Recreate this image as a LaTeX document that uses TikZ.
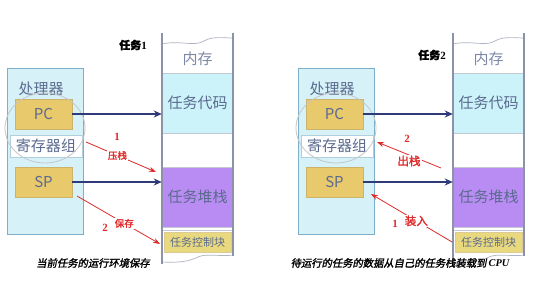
\documentclass[tikz,border=0pt]{standalone}
\usepackage{fontspec}
\setmainfont{Liberation Serif}
\newfontfamily\cjk{Noto Sans CJK SC}
\newfontfamily\cjkb[FakeBold=1.6]{Noto Sans CJK SC}
\newfontfamily\cjkcap[FakeSlant=0.2,FakeBold=1.6]{Noto Sans CJK SC}
\usetikzlibrary{arrows.meta}
\definecolor{procfill}{HTML}{D6F2F8}
\definecolor{procline}{HTML}{7DB0C8}
\definecolor{gold}{HTML}{E8C96C}
\definecolor{goldline}{HTML}{CDB36A}
\definecolor{tcbfill}{HTML}{E9D97E}
\definecolor{cyanc}{HTML}{CBF3F9}
\definecolor{purp}{HTML}{B88CF2}
\definecolor{txtc}{HTML}{5B6A8F}
\definecolor{navy}{HTML}{2E3B78}
\definecolor{redc}{HTML}{E02A2A}
\definecolor{memline}{HTML}{8C93A8}
\tikzset{
  procbox/.style={draw=procline, fill=procfill, line width=1pt, minimum width=76pt, minimum height=166pt, inner sep=0pt},
  pcbox/.style={draw=goldline, fill=gold, line width=0.6pt, minimum width=57pt, minimum height=30pt, inner sep=0pt, font=\cjk\fontsize{15}{15}\selectfont, text=txtc},
  regbox/.style={draw=procline!60, fill=white, line width=0.6pt, minimum width=72pt, minimum height=22pt, inner sep=0pt, font=\cjk\fontsize{15}{15}\selectfont, text=txtc},
  celltxt/.style={font=\cjk\fontsize{15}{15}\selectfont, text=txtc, inner sep=0pt},
  memcell/.style={draw=memline!50, line width=0.5pt, minimum width=71pt, minimum height=60pt, inner sep=0pt, font=\cjk\fontsize{15}{15}\selectfont, text=txtc},
  tcbbox/.style={draw=goldline!70, fill=tcbfill, line width=0.5pt, minimum width=67pt, minimum height=20pt, inner sep=0pt, font=\cjk\fontsize{11}{11}\selectfont, text=txtc},
  ring/.style={draw=gray!45, line width=0.8pt},
  memedge/.style={draw=memline, line width=1.2pt},
  navyarrow/.style={draw=navy, line width=2pt, -{Stealth[length=8pt,width=7pt]}},
  redarrow/.style={draw=redc, line width=0.8pt, -{Stealth[length=7pt,width=5pt]}},
  redlab/.style={font=\cjkb\fontsize{9.5}{9.5}\selectfont, text=redc, fill=white, inner sep=1pt},
  redlabbig/.style={redlab, font=\cjkb\fontsize{11.5}{11.5}\selectfont},
  rednum/.style={font=\bfseries\fontsize{11}{11}\selectfont, text=redc, inner sep=0pt},
  tasklab/.style={font=\bfseries\fontsize{11}{11}\selectfont, inner sep=0pt},
  caption/.style={font=\cjkcap\fontsize{10.3}{10.3}\selectfont, inner sep=0pt}
}
\newcommand\mypanel[1]{%
  \node[procbox] (#1proc) at (45,152) {};
  \node[celltxt] (#1proctxt) at (41,89) {处理器};
  \node[pcbox] (#1pc) at (43.5,114) {PC};
  \node[regbox] (#1reg) at (46,146) {寄存器组};
  \node[pcbox] (#1sp) at (43.5,182) {SP};
  \draw[ring] (45,128) ellipse [x radius=40, y radius=35];
  % memory column
  \node[memcell, fill=cyanc] (#1code) at (197.5,103) {任务代码};
  \node[memcell, fill=purp] (#1stack) at (197.5,197) {任务堆栈};
  \draw[memline!50, line width=0.5pt] (162,230) -- (233,230);
  \node[tcbbox] (#1tcb) at (197.5,242) {任务控制块};
  \node[celltxt, text=txtc!80] (#1mem) at (197.5,59) {内存};
  \draw[memline!70, line width=0.7pt] (162,44) .. controls (180,40) and (194,47) .. (204,41) .. controls (212,36) and (224,38) .. (233,38);
  \draw[memline!70, line width=0.7pt] (162,262) .. controls (180,263) and (190,261) .. (198,257) .. controls (206,253) and (222,257) .. (233,255);
  \draw[memedge] (162,33) -- (162,264);
  \draw[memedge] (233,33) -- (233,256);
}
\begin{document}
\begin{tikzpicture}[x=1pt,y=-1pt]
\useasboundingbox (0,0) rectangle (535,296);
\fill[white] (0,0) rectangle (535,296);
% ---------- left panel ----------
\mypanel{L}
\node[tasklab] (Ltask) at (133,45) {{\cjkb 任务}1};
\draw[navyarrow] (Lpc.east) -- (Lpc.east -| Lcode.west);
\draw[navyarrow] (Lsp.east) -- (Lsp.east -| Lstack.west);
\coordinate (La1s) at (86,142);
\coordinate (La1e) at (156,172);
\coordinate (La2s) at (77,196);
\coordinate (La2e) at (160,244);
\draw[redarrow] (La1s) -- node[redlab, pos=0.45] (Lpush) {压栈} (La1e);
\node[rednum] (Lone) at (117,137) {1};
\draw[redarrow] (La2s) -- node[redlab, pos=0.57] (Lsave) {保存} (La2e);
\node[rednum] (Ltwo) at (105,228) {2};
\node[caption] (Lcap) at (93,263) {当前任务的运行环境保存};
% ---------- right panel ----------
\begin{scope}[shift={(291,0)}]
\mypanel{R}
\node[tasklab] (Rtask) at (141,55) {{\cjkb 任务}2};
\draw[navyarrow] (Rpc.east) -- (Rpc.east -| Rcode.west);
\draw[navyarrow] (Rsp.east) -- (Rsp.east -| Rstack.west);
\coordinate (Ra2s) at (150,168);
\coordinate (Ra2e) at (86,142);
\coordinate (Ra1s) at (161,242);
\coordinate (Ra1e) at (80,194);
\draw[redarrow] (Ra2s) -- node[redlabbig, pos=0.5, yshift=-6pt] (Rpop) {出栈} (Ra2e);
\node[rednum] (Rtwo) at (116,139) {2};
\draw[redarrow] (Ra1s) -- node[redlabbig, pos=0.44] (Rload) {装入} (Ra1e);
\node[rednum] (Rone) at (104,224) {1};
\end{scope}
\node[caption] (Rcap) at (400,263) {待运行的任务的数据从自己的任务栈装载到 {\normalfont\bfseries\itshape CPU}};
\end{tikzpicture}
\end{document}
